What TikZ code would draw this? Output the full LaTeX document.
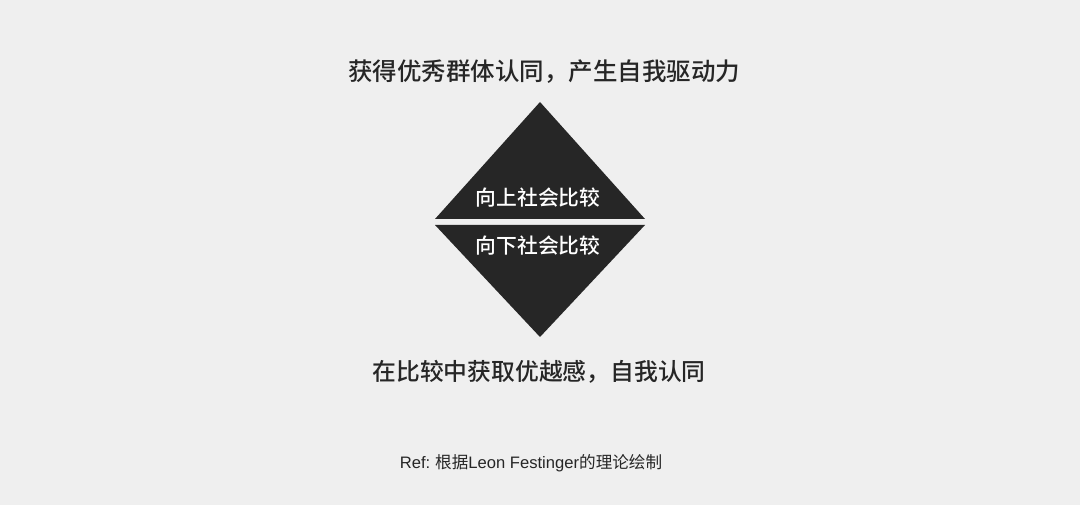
\documentclass[tikz,border=0pt]{standalone}
\usepackage{fontspec}
\setmainfont{Noto Sans CJK SC}
\newfontfamily\cjkmed{Noto Sans CJK SC}[UprightFont={* Medium}]
\newfontfamily\latinsans{Liberation Sans}
\usetikzlibrary{calc}
\definecolor{bgGray}{HTML}{EFEFEF}
\definecolor{darkTri}{HTML}{262626}
\tikzset{
    heading/.style={text=darkTri, font=\fontsize{24.5}{28}\cjkmed},
    subheading/.style={text=darkTri, font=\fontsize{23.8}{28}\cjkmed},
    trilabel/.style={text=white, font=\fontsize{20.8}{24}\cjkmed},
    refnote/.style={text=darkTri, font=\fontsize{16.6}{20}\selectfont}
}
\begin{document}
\begin{tikzpicture}[x=1pt, y=-1pt]
            \fill[bgGray] (0, 0) rectangle (1080, 505);
            \useasboundingbox (0, 0) rectangle (1080, 505);

            \coordinate (T) at (540, 102);
            %upper triangle
            \fill[darkTri] (T) -- ($(T) + (105, 117)$) -- ($(T) + (-105, 117)$) -- cycle;
            \node[trilabel] (up) at (538, 198) {向上社会比较};

            \coordinate (B) at (540, 337);
            %lower triangle
            \fill[darkTri] (B) -- ($(B) + (105, -112)$) -- ($(B) + (-105, -112)$) -- cycle;
            \node[trilabel] (down) at (538, 246) {向下社会比较};

            \node[heading] (top) at (544, 72) {获得优秀群体认同，产生自我驱动力};
            \node[subheading] (bottom) at (539, 372) {在比较中获取优越感，自我认同};
            \node[refnote] (ref) at (531, 463) {{\latinsans Ref:} 根据{\latinsans Leon Festinger}的理论绘制};

        \end{tikzpicture}
\end{document}
